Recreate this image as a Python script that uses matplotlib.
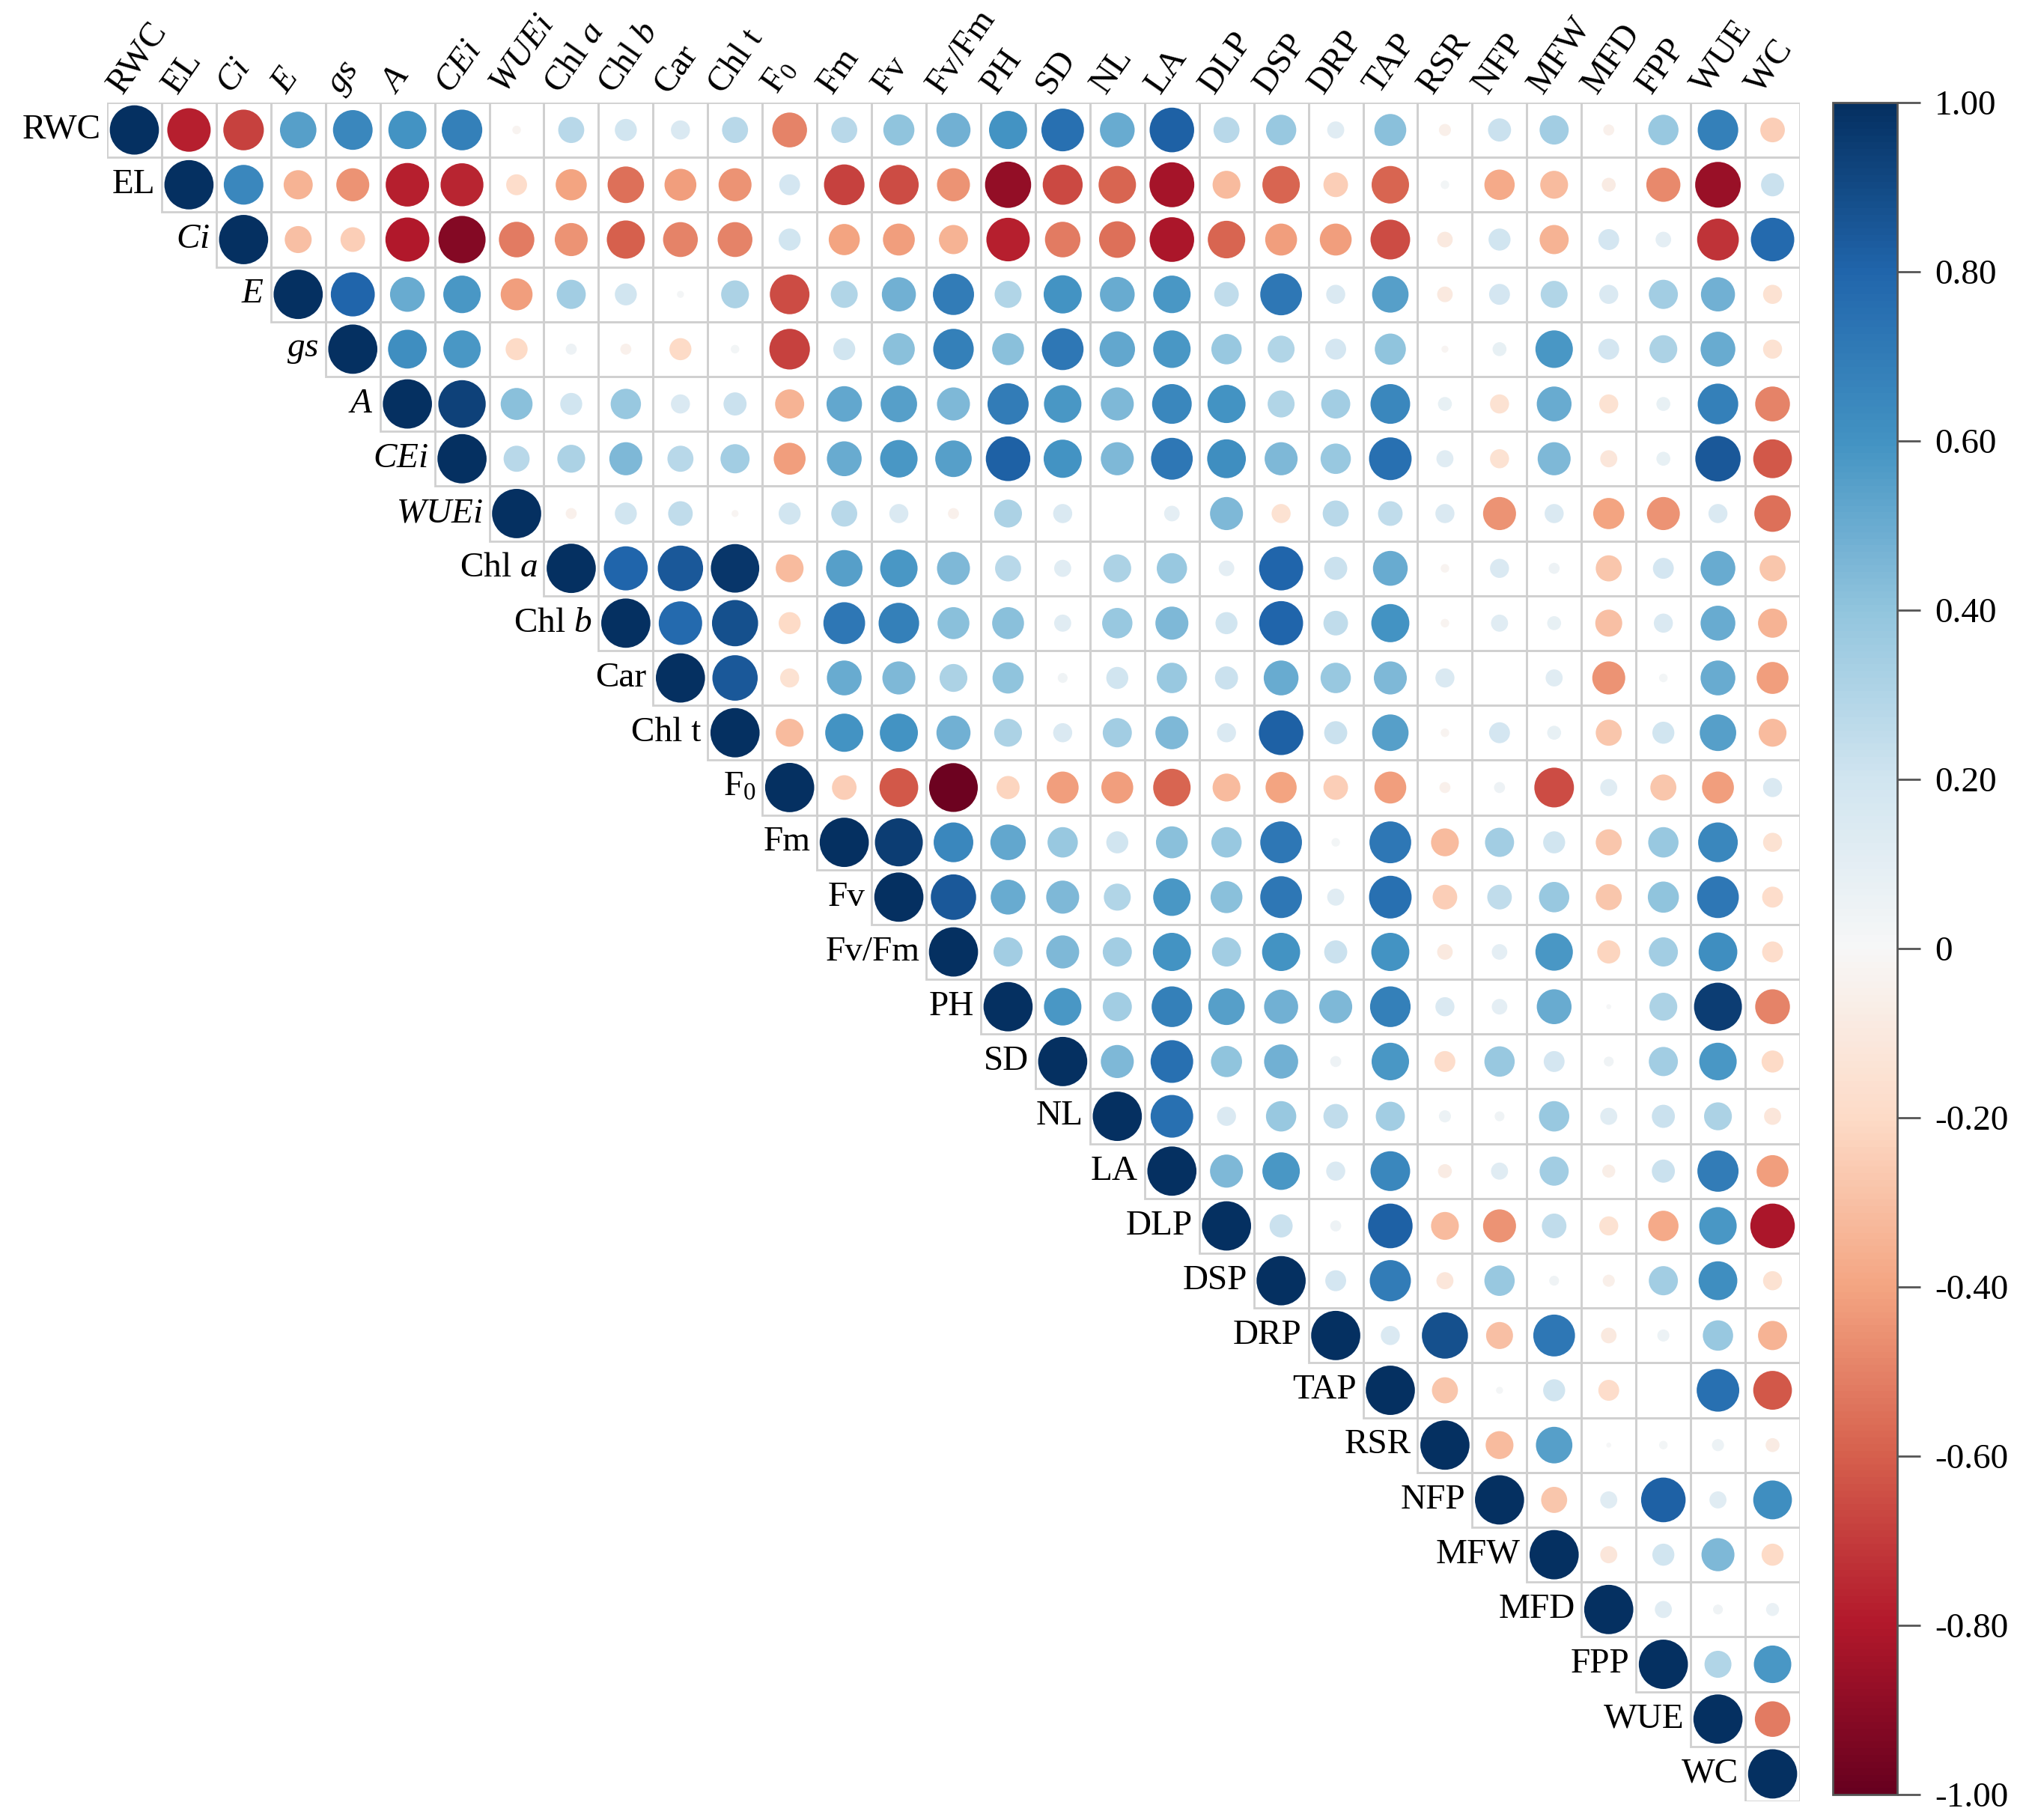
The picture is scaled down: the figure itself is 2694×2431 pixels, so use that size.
import numpy as np
import matplotlib.pyplot as plt
from matplotlib.patches import Circle, Rectangle
from matplotlib.colors import Normalize
import matplotlib as mpl

plt.rcParams['font.family'] = ['Liberation Serif', 'DejaVu Serif']
plt.rcParams['mathtext.fontset'] = 'custom'
plt.rcParams['mathtext.rm'] = 'Liberation Serif'
plt.rcParams['mathtext.it'] = 'Liberation Serif:italic'

# variable labels (used on top and along the diagonal)
labels = ["RWC", "EL", r"$\mathit{Ci}$", r"$\mathit{E}$", r"$\mathit{gs}$", r"$\mathit{A}$",
          r"$\mathit{CEi}$", r"$\mathit{WUEi}$", r"Chl $\mathit{a}$", r"Chl $\mathit{b}$",
          "Car", "Chl t", "F$_0$", "Fm", "Fv", "Fv/Fm", "PH", "SD", "NL", "LA",
          "DLP", "DSP", "DRP", "TAP", "RSR", "NFP", "MFW", "MFD", "FPP", "WUE", "WC"]

# upper-triangle correlations, each row starts right after the diagonal
rwc = [-0.78, -0.68, 0.55, 0.65, 0.60, 0.68, -0.03, 0.28, 0.20, 0.15, 0.28, -0.50, 0.28, 0.40,
       0.48, 0.60, 0.75, 0.50, 0.82, 0.28, 0.38, 0.12, 0.42, -0.06, 0.22, 0.35, -0.05, 0.38, 0.68, -0.25]
el = [0.65, -0.35, -0.45, -0.78, -0.76, -0.18, -0.40, -0.55, -0.42, -0.45, 0.18, -0.68, -0.65,
      -0.45, -0.88, -0.66, -0.58, -0.83, -0.32, -0.58, -0.25, -0.58, 0.03, -0.38, -0.32, -0.08,
      -0.48, -0.86, 0.22]
ci = [-0.30, -0.25, -0.80, -0.92, -0.52, -0.45, -0.60, -0.50, -0.50, 0.20, -0.40, -0.42, -0.35,
      -0.78, -0.52, -0.55, -0.82, -0.58, -0.42, -0.42, -0.65, -0.10, 0.20, -0.35, 0.18, 0.10,
      -0.72, 0.78]
e = [0.80, 0.50, 0.58, -0.42, 0.35, 0.20, 0.02, 0.32, -0.65, 0.30, 0.48, 0.70, 0.30, 0.60, 0.50,
     0.58, 0.25, 0.72, 0.15, 0.55, -0.10, 0.18, 0.30, 0.15, 0.35, 0.48, -0.15]
gs = [0.62, 0.58, -0.20, 0.05, -0.05, -0.20, 0.03, -0.68, 0.20, 0.42, 0.68, 0.42, 0.72, 0.52,
      0.58, 0.38, 0.30, 0.18, 0.40, -0.02, 0.08, 0.58, 0.18, 0.32, 0.50, -0.15]
a = [0.93, 0.42, 0.20, 0.38, 0.15, 0.22, -0.35, 0.52, 0.55, 0.45, 0.70, 0.58, 0.45, 0.65, 0.60,
     0.30, 0.35, 0.65, 0.08, -0.15, 0.50, -0.15, 0.08, 0.68, -0.50]
cei = [0.28, 0.32, 0.45, 0.28, 0.35, -0.42, 0.50, 0.58, 0.55, 0.82, 0.60, 0.45, 0.72, 0.62, 0.45,
       0.38, 0.75, 0.12, -0.15, 0.45, -0.12, 0.08, 0.85, -0.62]
wuei = [-0.05, 0.20, 0.25, -0.02, 0.20, 0.28, 0.15, -0.05, 0.32, 0.15, 0.00, 0.10, 0.45, -0.15,
        0.28, 0.25, 0.15, -0.45, 0.15, -0.40, -0.45, 0.15, -0.55]
chla = [0.80, 0.85, 0.97, -0.32, 0.55, 0.58, 0.45, 0.28, 0.12, 0.32, 0.38, 0.10, 0.80, 0.22,
        0.50, -0.03, 0.15, 0.05, -0.28, 0.18, 0.50, -0.28]
chlb = [0.78, 0.88, -0.20, 0.72, 0.68, 0.42, 0.42, 0.12, 0.38, 0.45, 0.20, 0.80, 0.25, 0.60,
        -0.03, 0.12, 0.08, -0.30, 0.15, 0.50, -0.35]
car = [0.85, -0.15, 0.50, 0.45, 0.32, 0.40, 0.04, 0.20, 0.38, 0.22, 0.50, 0.38, 0.45, 0.15,
       0.00, 0.12, -0.45, 0.03, 0.50, -0.42]
chlt = [-0.32, 0.60, 0.60, 0.48, 0.32, 0.15, 0.35, 0.45, 0.15, 0.82, 0.22, 0.55, -0.03, 0.18,
        0.08, -0.28, 0.20, 0.55, -0.32]
f0 = [-0.25, -0.62, -0.98, -0.22, -0.42, -0.42, -0.58, -0.32, -0.40, -0.25, -0.42, -0.05, 0.05,
      -0.65, 0.12, -0.28, -0.42, 0.15]
fm = [0.95, 0.65, 0.52, 0.38, 0.20, 0.42, 0.38, 0.72, 0.03, 0.72, -0.32, 0.35, 0.20, -0.28,
      0.38, 0.65, -0.15]
fv = [0.85, 0.50, 0.45, 0.30, 0.58, 0.42, 0.72, 0.12, 0.75, -0.25, 0.25, 0.38, -0.28, 0.40,
      0.72, -0.18]
fvfm = [0.35, 0.45, 0.35, 0.60, 0.35, 0.60, 0.22, 0.60, -0.10, 0.10, 0.58, -0.22, 0.35, 0.62, -0.18]
ph = [0.58, 0.35, 0.68, 0.55, 0.48, 0.45, 0.68, 0.15, 0.10, 0.50, 0.01, 0.32, 0.95, -0.50]
sd = [0.45, 0.75, 0.40, 0.48, 0.05, 0.58, -0.18, 0.38, 0.18, 0.04, 0.35, 0.58, -0.20]
nl = [0.75, 0.15, 0.38, 0.25, 0.35, 0.06, 0.04, 0.38, 0.12, 0.22, 0.32, -0.12]
la = [0.45, 0.58, 0.15, 0.65, -0.08, 0.12, 0.35, -0.07, 0.22, 0.70, -0.42]
dlp = [0.22, 0.05, 0.82, -0.32, -0.45, 0.25, -0.15, -0.38, 0.58, -0.82]
dsp = [0.18, 0.70, -0.12, 0.38, 0.04, -0.06, 0.35, 0.62, -0.15]
drp = [0.15, 0.88, -0.30, 0.72, -0.10, 0.06, 0.38, -0.35]
tap = [-0.28, 0.02, 0.20, -0.18, 0.00, 0.75, -0.62]
rsr = [-0.32, 0.55, 0.01, 0.03, 0.06, -0.08]
nfp = [-0.28, 0.12, 0.82, 0.12, 0.62]
mfw = [-0.12, 0.20, 0.45, -0.20]
mfd = [0.12, 0.04, 0.07]
fpp = [0.30, 0.58]
wue = [-0.52]
wc = []

upper_rows = [rwc, el, ci, e, gs, a, cei, wuei, chla, chlb, car, chlt, f0, fm, fv, fvfm,
              ph, sd, nl, la, dlp, dsp, drp, tap, rsr, nfp, mfw, mfd, fpp, wue, wc]

n = len(labels)
corr = np.eye(n)
for i, vals in enumerate(upper_rows):
    corr[i, i + 1:] = vals

cmap = plt.get_cmap('RdBu')
norm = Normalize(-1, 1)
FS = 34

fig = plt.figure(figsize=(26.94, 24.31), dpi=100)
ax = fig.add_axes([143 / 2694, 1 - 2406 / 2431, (2404 - 143) / 2694, (2406 - 137) / 2431])
ax.set_xlim(-0.5, n - 0.5)
ax.set_ylim(n - 0.5, -0.5)
ax.axis('off')

for i in range(n):
    for j in range(i, n):
        ax.add_patch(Rectangle((j - 0.5, i - 0.5), 1, 1, fill=False,
                               edgecolor='#d0d0d0', lw=2, zorder=1))
        r = corr[i, j]
        ax.add_patch(Circle((j, i), 0.45 * np.sqrt(abs(r)), facecolor=cmap(norm(r)),
                            edgecolor='none', zorder=2))

# top labels, tilted
for j, lab in enumerate(labels):
    ax.text(j - 0.22, -0.64, lab, rotation=55, ha='left', va='baseline',
            rotation_mode='anchor', fontsize=FS, clip_on=False)

# labels next to the diagonal
for i, lab in enumerate(labels):
    ax.text(i - 0.62, i, lab, ha='right', va='center', fontsize=FS, clip_on=False)

# colour bar
cax = fig.add_axes([2448 / 2694, 1 - 2397 / 2431, (2534 - 2448) / 2694, (2397 - 137) / 2431])
cb = mpl.colorbar.ColorbarBase(cax, cmap=cmap, norm=norm, orientation='vertical')
ticks = np.linspace(-1, 1, 11)
cb.set_ticks(ticks)
cb.set_ticklabels(["0" if abs(t) < 1e-9 else f"{t:.2f}" for t in ticks])
cb.outline.set_edgecolor('#555555')
cb.outline.set_linewidth(2)
cax.tick_params(labelsize=FS, length=22, width=2, color='#555555', pad=14)

fig.savefig('out.png', dpi=100)
